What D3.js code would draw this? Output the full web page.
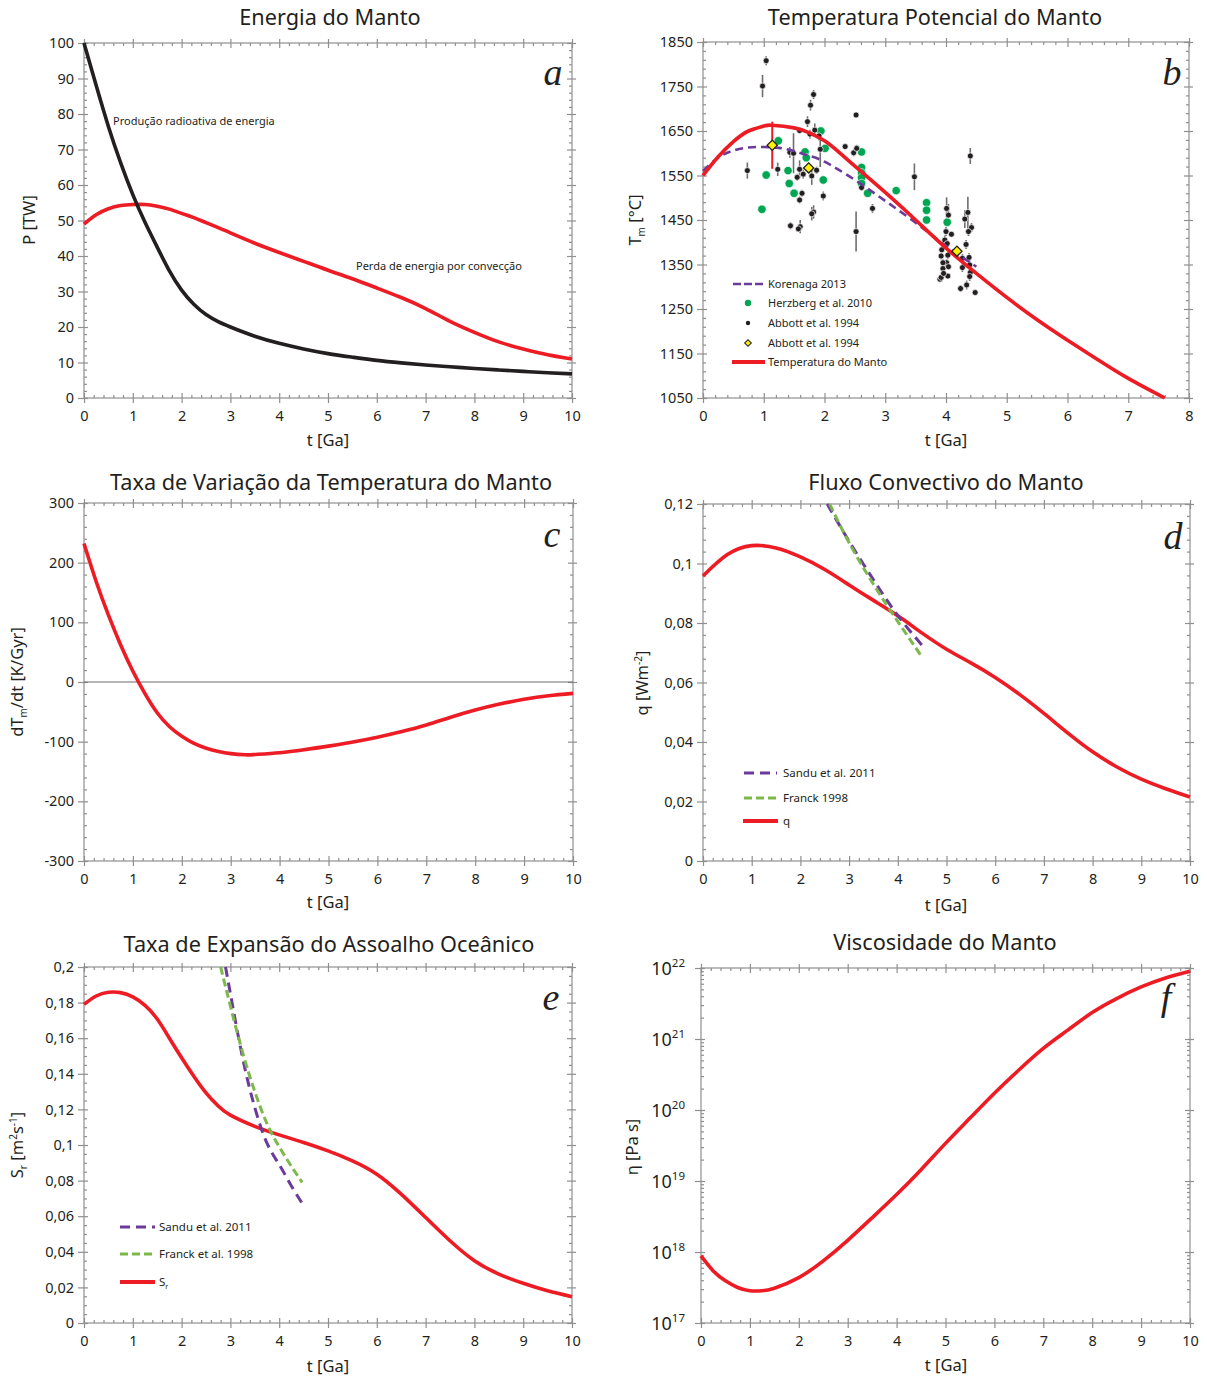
<!DOCTYPE html>
<html><head><meta charset="utf-8">
<script src="https://cdn.jsdelivr.net/npm/d3@7"></script>
<style>
body{margin:0;background:#fff}
svg{display:block}
text{font-family:"Noto Sans",sans-serif;fill:#231f20}
</style>
</head><body>
<svg id="c" width="1207" height="1377"></svg>
<script>
// ---------------- DATA ----------------
// Panel a: Energia do Manto
const tA = [0,0.25,0.5,0.75,1,1.25,1.5,1.75,2,2.25,2.5,2.75,3,3.5,4,4.5,5,5.5,6,6.5,7,7.5,8,8.5,9,9.5,10];
const prodRadio = [100,88,76.5,66.3,57.3,49.5,42.5,35.8,30.4,26.4,23.5,21.5,20,17.4,15.4,13.8,12.5,11.5,10.6,9.9,9.3,8.8,8.3,7.9,7.5,7.1,6.8];
const lossConv  = [49,51.6,53.3,54.2,54.5,54.5,54,53.2,52,50.8,49.4,48,46.5,43.6,41,38.5,36.0,33.6,31,28.3,25.2,21.6,18.5,15.8,13.8,12.2,11];
const xTicksA = [0,1,2,3,4,5,6,7,8,9,10];
const yTicksA = [0,10,20,30,40,50,60,70,80,90,100];

// Panel b: Temperatura Potencial do Manto
const tB = [0,0.25,0.5,0.75,1,1.13,1.5,1.75,2,2.25,2.5,3,3.5,4,4.5,5,5.5,6,6.5,7,7.6];
const tempManto = [1550,1592,1626,1650,1661,1663,1657,1646,1628,1601,1571,1512,1450,1387,1330,1276,1226,1180,1136,1094,1050];
const tKor = [0,0.25,0.5,0.75,1,1.25,1.5,1.75,2,2.5,3,3.5,4,4.5];
const tempKorenaga = [1560,1590,1606,1613,1614,1612,1605,1594,1581,1540,1493,1444,1392,1345];
const herzbergT = [0.97,1.04,1.24,1.40,1.42,1.50,1.68,1.70,1.98,1.94,2.01,2.61,2.61,2.61,2.61,2.61,2.71,3.18,3.68,3.68,3.68,4.02];
const herzbergTemp = [1474,1551,1628,1561,1532,1510,1603,1590,1540,1650,1611,1603,1568,1556,1545,1532,1510,1516,1489,1472,1450,1445];
const abbottT = [1.04,0.98,0.73,1.23,1.43,1.49,1.59,1.72,1.77,1.82,1.76,1.84,1.91,1.93,1.59,1.55,1.65,1.79,1.87,1.63,1.59,1.98,1.82,1.79,1.44,1.60,1.57,2.34,2.48,2.53,2.52,2.61,2.79,2.52,3.48,4.40,4.01,4.04,4.36,4.31,4.42,4.37,4.00,4.09,3.98,4.02,4.33,3.93,3.92,4.03,4.01,3.95,4.04,3.95,4.03,3.90,3.92,4.27,4.38,4.39,4.27,4.40,4.39,4.34,4.24,4.48,3.96];
const abbottTemp = [1808,1751,1561,1564,1602,1600,1651,1671,1708,1732,1643,1652,1639,1609,1564,1546,1553,1549,1562,1510,1495,1504,1468,1464,1437,1435,1430,1615,1601,1611,1686,1523,1476,1424,1547,1594,1476,1461,1467,1452,1433,1424,1424,1418,1405,1397,1395,1383,1369,1371,1354,1354,1345,1341,1324,1317,1321,1364,1366,1349,1343,1332,1323,1304,1296,1287,1330];
const abbottErr = [10,25,18,15,12,45,0,12,12,10,10,15,10,40,20,8,10,20,8,8,8,10,15,15,8,15,0,0,8,8,0,8,10,45,30,18,25,25,35,20,10,10,10,0,10,10,10,8,8,8,8,8,0,8,0,0,0,10,10,10,10,10,10,10,8,0,0];
const abbottAvgT = [1.14,1.74,4.18];
const abbottAvgTemp = [1618,1567,1380];
const abbottAvgErr = [53,10,0];
const xTicksB = [0,1,2,3,4,5,6,7,8];
const yTicksB = [1050,1150,1250,1350,1450,1550,1650,1750,1850];
const legendB = ["Korenaga 2013","Herzberg et al. 2010","Abbott et al. 1994","Abbott et al. 1994","Temperatura do Manto"];

// Panel c: Taxa de Variação da Temperatura do Manto
const tC = [0,0.25,0.5,0.75,1,1.25,1.5,1.75,2,2.25,2.5,2.75,3,3.3,3.5,4,4.5,5,5.5,6,6.5,7,7.5,8,8.5,9,9.5,10];
const dTdt = [232,168,112,62,18,-20,-52,-75,-91,-103,-111,-116.5,-120,-122,-121.5,-118.5,-113.5,-107.5,-100.5,-92.5,-83,-72,-59,-47,-37,-29,-23,-19];
const yTicksC = [-300,-200,-100,0,100,200,300];

// Panel d: Fluxo Convectivo do Manto
const tD = [0,0.5,1,1.5,2,2.5,3,3.5,4,4.5,5,5.5,6,6.5,7,7.5,8,8.5,9,9.5,10];
const qFlux = [0.0958,0.1030,0.1060,0.1052,0.1022,0.0980,0.0928,0.0876,0.0824,0.0766,0.0712,0.0666,0.0617,0.0560,0.0496,0.0429,0.0367,0.0316,0.0275,0.0243,0.0215];
const tSanduD = [2.55,3,3.5,4,4.5];
const qSandu = [0.12,0.1075,0.0945,0.0825,0.0725];
const tFranckD = [2.6,3,3.5,4,4.5];
const qFranck = [0.12,0.107,0.093,0.0805,0.0685];
const yTicksD = [0,0.02,0.04,0.06,0.08,0.1,0.12];
const legendD = ["Sandu et al. 2011","Franck 1998","q"];

// Panel e: Taxa de Expansão do Assoalho Oceânico
const tE = [0,0.25,0.5,0.75,1,1.25,1.5,1.75,2,2.25,2.5,2.75,3,3.5,4,4.5,5,5.5,6,6.5,7,7.5,8,8.5,9,9.5,10];
const spreadRate = [0.179,0.1837,0.1858,0.1856,0.1832,0.1784,0.1708,0.160,0.149,0.1386,0.1293,0.1219,0.1168,0.1105,0.1057,0.1014,0.0967,0.0911,0.0836,0.0724,0.0593,0.0462,0.0350,0.0275,0.0223,0.0181,0.0148];
const tSanduE = [2.9,3,3.25,3.5,3.75,4,4.25,4.5];
const sSandu = [0.2,0.185,0.149,0.121,0.101,0.089,0.077,0.066];
const tFranckE = [2.8,3,3.25,3.5,3.75,4,4.25,4.47];
const sFranck = [0.2,0.178,0.152,0.130,0.112,0.099,0.088,0.079];
const yTicksE = [0,0.02,0.04,0.06,0.08,0.1,0.12,0.14,0.16,0.18,0.2];
const legendE = ["Sandu et al. 2011","Franck et al. 1998","S"];

// Panel f: Viscosidade do Manto (log10 of viscosity)
const tF = [0,0.25,0.5,0.75,1,1.25,1.5,2,2.5,3,3.5,4,4.5,5,5.5,6,6.5,7,7.5,8,8.5,9,9.5,10];
const logVisc = [17.945,17.734,17.594,17.50,17.454,17.454,17.49,17.64,17.875,18.165,18.483,18.81,19.16,19.53,19.886,20.237,20.564,20.868,21.125,21.373,21.57,21.733,21.86,21.953];
const yTicksF = [1e17,1e18,1e19,1e20,1e21,1e22];

// ---------------- DRAWING ----------------
const svg = d3.select('#c');
const GRAY = '#8f8f8f', RED = '#ed1c24', PURPLE = '#6c3a9c', LGREEN = '#7cb94a', DGREEN = '#00a651', INK = '#231f20';

function steps(a, b, s) { const r = []; for (let i = 0; a + i * s <= b + 1e-9; i++) r.push(+(a + i * s).toFixed(6)); return r; }
function minors(a, b, s, majors) { return steps(a, b, s).filter(v => !majors.some(m => Math.abs(m - v) < s / 10)); }

function frame(x, y, o) {
  const g = svg.append('g');
  const [x0, x1] = x.range(), [yb, yt] = y.range();
  g.append('rect').attr('x', x0).attr('y', yt).attr('width', x1 - x0).attr('height', yb - yt)
    .attr('fill', 'none').attr('stroke', GRAY).attr('stroke-width', 1.2);
  const ax = (gen, tr, vals, size, fmt, pad) => {
    const a = g.append('g').attr('transform', tr)
      .call(gen.tickValues(vals).tickSize(size).tickPadding(pad || 3).tickFormat(fmt || (() => '')));
    a.select('.domain').remove();
    a.attr('font-family', null).attr('font-size', null);
    a.selectAll('line').attr('stroke', GRAY).attr('stroke-width', 1.2);
    a.selectAll('text').attr('fill', INK).style('font-size', '14.5px');
    return a;
  };
  const xf = o.xf || (d => String(d));
  ax(d3.axisBottom(x), `translate(0,${yb})`, o.xt, 5, xf, 8);
  ax(d3.axisBottom(x), `translate(0,${yb})`, o.xt, -5);
  ax(d3.axisBottom(x), `translate(0,${yb})`, o.xm, -3);
  ax(d3.axisTop(x), `translate(0,${yt})`, o.xt, 4);
  ax(d3.axisTop(x), `translate(0,${yt})`, o.xt, -5);
  ax(d3.axisTop(x), `translate(0,${yt})`, o.xm, -3);
  const left = ax(d3.axisLeft(y), `translate(${x0},0)`, o.yt, 6, o.yf || (d => String(d)), 4);
  ax(d3.axisLeft(y), `translate(${x0},0)`, o.yt, -4);
  ax(d3.axisLeft(y), `translate(${x0},0)`, o.ym, -3);
  ax(d3.axisRight(y), `translate(${x1},0)`, o.yt, 4);
  ax(d3.axisRight(y), `translate(${x1},0)`, o.yt, -5);
  ax(d3.axisRight(y), `translate(${x1},0)`, o.ym, -3);
  return { g, left };
}

function title(txt, cx, y) {
  svg.append('text').attr('x', cx).attr('y', y).attr('text-anchor', 'middle').style('font-size', '21.7px').text(txt);
}
function xTitle(cx, y) {
  svg.append('text').attr('x', cx).attr('y', y).attr('text-anchor', 'middle').style('font-size', '16.5px').text('t [Ga]');
}
function yTitle(parts, x, cy) {
  const t = svg.append('text').attr('transform', `translate(${x},${cy}) rotate(-90)`).attr('text-anchor', 'middle').style('font-size', '16.5px');
  parts.forEach(p => {
    const s = t.append('tspan').text(p.t);
    if (p.sub) s.attr('dy', 4).style('font-size', '10px');
    if (p.sup) s.attr('dy', -6).style('font-size', '10px');
    if (p.back) s.attr('dy', p.back);
  });
}
function letter(ch, x, y) {
  svg.append('text').attr('x', x).attr('y', y).attr('text-anchor', 'middle')
    .style('font-family', '"Liberation Serif",serif').style('font-style', 'italic').style('font-size', '38px').text(ch);
}
function curve(x, y, ts, vs, color, w, dash) {
  const line = d3.line().x((d, i) => x(ts[i])).y(d => y(d)).curve(d3.curveNatural);
  const p = svg.append('path').attr('d', line(vs)).attr('fill', 'none').attr('stroke', color)
    .attr('stroke-width', w).attr('stroke-linejoin', 'round');
  if (dash) p.attr('stroke-dasharray', dash);
  return p;
}

// ----- Panel a -----
{
  const x = d3.scaleLinear().domain([0, 10]).range([84, 572]);
  const y = d3.scaleLinear().domain([0, 100]).range([398, 43]);
  frame(x, y, { xt: xTicksA, xm: minors(0, 10, 0.2, xTicksA), yt: yTicksA, ym: minors(0, 100, 2, yTicksA) });
  curve(x, y, tA, lossConv, RED, 3.6);
  curve(x, y, tA, prodRadio, INK, 3.6);
  svg.append('text').attr('x', 113).attr('y', 125).style('font-size', '11px').text('Produção radioativa de energia');
  svg.append('text').attr('x', 356).attr('y', 270).style('font-size', '11px').text('Perda de energia por convecção');
  title('Energia do Manto', 330, 25);
  xTitle(328, 446);
  yTitle([{ t: 'P [TW]' }], 35, 220);
  letter('a', 553, 85);
}

// ----- Panel b -----
{
  const x = d3.scaleLinear().domain([0, 8]).range([703, 1189]);
  const y = d3.scaleLinear().domain([1050, 1850]).range([398, 42]);
  frame(x, y, { xt: xTicksB, xm: minors(0, 8, 0.2, xTicksB), yt: yTicksB, ym: minors(1050, 1850, 20, yTicksB) });
  const gb = svg.append('g');
  abbottT.forEach((t, i) => {
    if (abbottErr[i] > 0) gb.append('line').attr('x1', x(t)).attr('x2', x(t))
      .attr('y1', y(abbottTemp[i] - abbottErr[i])).attr('y2', y(abbottTemp[i] + abbottErr[i]))
      .attr('stroke', '#6e6e6e').attr('stroke-width', 1.6);
  });
  herzbergT.forEach((t, i) => gb.append('circle').attr('cx', x(t)).attr('cy', y(herzbergTemp[i])).attr('r', 4.2).attr('fill', DGREEN).attr('stroke', '#fff').attr('stroke-width', 0.6));
  abbottT.forEach((t, i) => gb.append('circle').attr('cx', x(t)).attr('cy', y(abbottTemp[i])).attr('r', 3).attr('fill', INK).attr('stroke', '#fff').attr('stroke-width', 0.7));
  curve(x, y, tKor, tempKorenaga, PURPLE, 2.6, '8,5');
  curve(x, y, tB, tempManto, RED, 3.6);
  abbottAvgT.forEach((t, i) => {
    if (abbottAvgErr[i] > 0) {
      gb.append('line').attr('x1', x(t)).attr('x2', x(t)).attr('y1', y(abbottAvgTemp[i] - abbottAvgErr[i])).attr('y2', y(abbottAvgTemp[i] + abbottAvgErr[i])).attr('stroke', RED).attr('stroke-width', 2);
    }
  });
  const sq = d3.symbol(d3.symbolSquare, 52)();
  abbottAvgT.forEach((t, i) => svg.append('path').attr('d', sq)
    .attr('transform', `translate(${x(t)},${y(abbottAvgTemp[i])}) rotate(45)`)
    .attr('fill', '#fff200').attr('stroke', INK).attr('stroke-width', 1.3));
  const ly = [284, 303, 323, 343, 362];
  const lg = svg.append('g');
  lg.append('line').attr('x1', 733).attr('x2', 763).attr('y1', ly[0]).attr('y2', ly[0]).attr('stroke', PURPLE).attr('stroke-width', 2.6).attr('stroke-dasharray', '8,3');
  lg.append('circle').attr('cx', 748).attr('cy', ly[1]).attr('r', 3.2).attr('fill', DGREEN);
  lg.append('circle').attr('cx', 748).attr('cy', ly[2]).attr('r', 2.2).attr('fill', INK);
  lg.append('path').attr('d', d3.symbol(d3.symbolSquare, 22)()).attr('transform', `translate(748,${ly[3]}) rotate(45)`).attr('fill', '#fff200').attr('stroke', INK).attr('stroke-width', 1);
  lg.append('line').attr('x1', 732).attr('x2', 765).attr('y1', ly[4]).attr('y2', ly[4]).attr('stroke', RED).attr('stroke-width', 4);
  legendB.forEach((s, i) => lg.append('text').attr('x', 768).attr('y', ly[i] + 4).style('font-size', '11px').text(s));
  title('Temperatura Potencial do Manto', 935, 25);
  xTitle(946, 446);
  yTitle([{ t: 'T' }, { t: 'm', sub: true }, { t: ' [°C]', back: -4 }], 641, 220);
  letter('b', 1172, 85);
}

// ----- Panel c -----
{
  const x = d3.scaleLinear().domain([0, 10]).range([84, 573]);
  const y = d3.scaleLinear().domain([-300, 300]).range([861, 503]);
  frame(x, y, { xt: xTicksA, xm: minors(0, 10, 0.2, xTicksA), yt: yTicksC, ym: minors(-300, 300, 20, yTicksC) });
  svg.append('line').attr('x1', x(0)).attr('x2', x(10)).attr('y1', y(0)).attr('y2', y(0)).attr('stroke', '#6d6d6d').attr('stroke-width', 1.2);
  curve(x, y, tC, dTdt, RED, 3.6);
  title('Taxa de Variação da Temperatura do Manto', 331, 490);
  xTitle(328, 908);
  yTitle([{ t: 'dT' }, { t: 'm', sub: true }, { t: '/dt [K/Gyr]', back: -4 }], 23, 682);
  letter('c', 552, 547);
}

// ----- Panel d -----
{
  const fmt = d => d === 0 ? '0' : String(+d.toFixed(3)).replace('.', ',');
  const x = d3.scaleLinear().domain([0, 10]).range([703, 1190]);
  const y = d3.scaleLinear().domain([0, 0.12]).range([861, 504]);
  frame(x, y, { xt: xTicksA, xm: minors(0, 10, 0.2, xTicksA), yt: yTicksD, ym: minors(0, 0.12, 0.004, yTicksD), yf: fmt });
  curve(x, y, tD, qFlux, RED, 3.6);
  curve(x, y, tSanduD, qSandu, PURPLE, 3, '10,6');
  curve(x, y, tFranckD, qFranck, LGREEN, 3, '8,4');
  const ly = [773, 798, 821];
  svg.append('line').attr('x1', 744).attr('x2', 777).attr('y1', ly[0]).attr('y2', ly[0]).attr('stroke', PURPLE).attr('stroke-width', 3).attr('stroke-dasharray', '10,6');
  svg.append('line').attr('x1', 744).attr('x2', 777).attr('y1', ly[1]).attr('y2', ly[1]).attr('stroke', LGREEN).attr('stroke-width', 3).attr('stroke-dasharray', '8,4');
  svg.append('line').attr('x1', 743).attr('x2', 778).attr('y1', ly[2]).attr('y2', ly[2]).attr('stroke', RED).attr('stroke-width', 4);
  legendD.forEach((s, i) => svg.append('text').attr('x', 783).attr('y', ly[i] + 4).style('font-size', '11.5px').text(s));
  title('Fluxo Convectivo do Manto', 946, 490);
  xTitle(946, 911);
  yTitle([{ t: 'q [Wm' }, { t: '-2', sup: true }, { t: ']', back: 6 }], 648, 683);
  letter('d', 1173, 549);
}

// ----- Panel e -----
{
  const fmt = d => d === 0 ? '0' : String(+d.toFixed(3)).replace('.', ',');
  const x = d3.scaleLinear().domain([0, 10]).range([84, 572]);
  const y = d3.scaleLinear().domain([0, 0.2]).range([1323, 967]);
  frame(x, y, { xt: xTicksA, xm: minors(0, 10, 0.2, xTicksA), yt: yTicksE, ym: minors(0, 0.2, 0.005, yTicksE), yf: fmt });
  curve(x, y, tE, spreadRate, RED, 3.6);
  curve(x, y, tSanduE, sSandu, PURPLE, 3, '10,6');
  curve(x, y, tFranckE, sFranck, LGREEN, 3, '8,4');
  const ly = [1227, 1254, 1282];
  svg.append('line').attr('x1', 120).attr('x2', 155).attr('y1', ly[0]).attr('y2', ly[0]).attr('stroke', PURPLE).attr('stroke-width', 3).attr('stroke-dasharray', '10,6');
  svg.append('line').attr('x1', 120).attr('x2', 155).attr('y1', ly[1]).attr('y2', ly[1]).attr('stroke', LGREEN).attr('stroke-width', 3).attr('stroke-dasharray', '8,4');
  svg.append('line').attr('x1', 120).attr('x2', 155).attr('y1', ly[2]).attr('y2', ly[2]).attr('stroke', RED).attr('stroke-width', 4);
  legendE.forEach((s, i) => {
    const t = svg.append('text').attr('x', 159).attr('y', ly[i] + 4).style('font-size', '11.5px').text(s);
    if (i === 2) t.append('tspan').attr('dy', 3).style('font-size', '7px').text('r');
  });
  title('Taxa de Expansão do Assoalho Oceânico', 329, 952);
  xTitle(328, 1372);
  yTitle([{ t: 'S' }, { t: 'r', sub: true }, { t: ' [m', back: -4 }, { t: '2', sup: true }, { t: 's', back: 6 }, { t: '-1', sup: true }, { t: ']', back: 6 }], 23, 1145);
  letter('e', 551, 1010);
}

// ----- Panel f -----
{
  const x = d3.scaleLinear().domain([0, 10]).range([701, 1190]);
  const y = d3.scaleLog().domain([1e17, 1e22]).range([1323, 968]);
  const ym = [];
  for (let e = 17; e < 22; e++) for (let k = 2; k <= 9; k++) ym.push(k * Math.pow(10, e));
  const fr = frame(x, y, { xt: xTicksA, xm: minors(0, 10, 0.2, xTicksA), yt: yTicksF, ym: ym, yf: d => String(Math.round(Math.log10(d))) });
  fr.left.selectAll('.tick text').each(function (d) {
    const t = d3.select(this);
    const e = Math.round(Math.log10(d));
    t.text(null).attr('dy', '0.45em').attr('x', -16);
    t.append('tspan').style('font-size', '18px').text('10');
    t.append('tspan').attr('dy', -8).style('font-size', '11.5px').text(String(e));
  });
  curve(x, y, tF, logVisc.map(v => Math.pow(10, v)), RED, 3.6);
  title('Viscosidade do Manto', 945, 950);
  xTitle(946, 1371);
  yTitle([{ t: 'η [Pa s]' }], 638, 1147);
  letter('f', 1166, 1010);
}
</script>
</body></html>
